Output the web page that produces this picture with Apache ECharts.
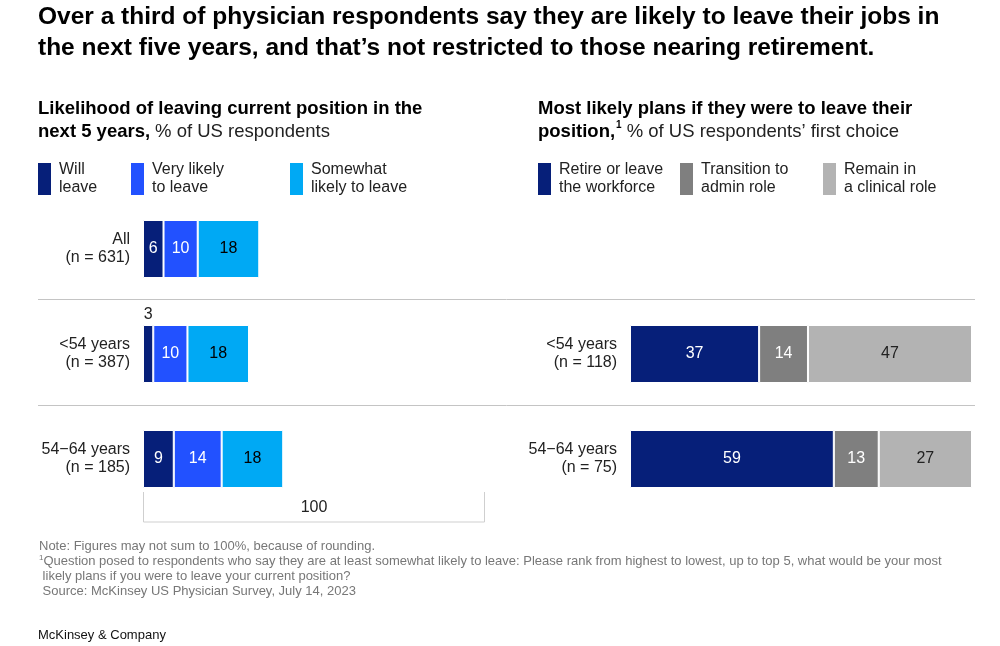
<!DOCTYPE html>
<html>
<head>
<meta charset="utf-8">
<script src="https://cdn.jsdelivr.net/npm/echarts@6/dist/echarts.min.js"></script>
<style>
  html, body { margin: 0; padding: 0; background: #fff; }
  #myChart { width: 1000px; height: 646px; }
</style>
</head>
<body>
<div id="myChart"></div>
<script>
// 数据
const leaveCats = ['All\n(n = 631)', '<54 years\n(n = 387)', '54\u221264 years\n(n = 185)']
const willLeave = [6, 3, 9]
const veryLikely = [10, 10, 14]
const somewhatLikely = [18, 18, 18]

const planCats = ['', '<54 years\n(n = 118)', '54\u221264 years\n(n = 75)']
const retire = [null, 37, 59]
const adminRole = [null, 14, 13]
const clinicalRole = [null, 47, 27]

const totalLabel = '100'

const FONT = 'Liberation Sans'
const NAVY = '#061f79'
const BLUE = '#2251ff'
const CYAN = '#00a9f4'
const GRAY = '#7f7f7f'
const LIGHTGRAY = '#b3b3b3'

let myChart = echarts.init(document.getElementById('myChart'))

function barSeries (name, data, color, textColor, xi) {
  return {
    name: name,
    type: 'bar',
    stack: 's' + xi,
    xAxisIndex: xi,
    yAxisIndex: xi,
    barWidth: 58,
    data: data,
    itemStyle: { color: color, borderColor: '#fff', borderWidth: 1 },
    label: {
      show: true,
      position: 'inside',
      color: textColor,
      fontFamily: FONT,
      fontSize: 16
    },
    emphasis: { disabled: true }
  }
}

// 右侧每行按合计归一到整条宽度，标签仍显示原始数值
function shareSeries (name, arr, color, textColor) {
  let s = barSeries(name, arr.map(function (v, i) {
    if (v == null) return '-'
    let tot = retire[i] + adminRole[i] + clinicalRole[i]
    return v / tot * 100
  }), color, textColor, 1)
  s.label.formatter = function (p) { return arr[p.dataIndex] }
  return s
}

function oneLegend (name, text, left) {
  return {
    data: [name],
    left: left,
    top: 161,
    padding: 0,
    orient: 'horizontal',
    icon: 'rect',
    itemWidth: 13,
    itemHeight: 32,
    itemStyle: { borderWidth: 0 },
    selectedMode: false,
    formatter: function () { return text },
    textStyle: {
      fontFamily: FONT,
      fontSize: 16,
      lineHeight: 18,
      color: '#222',
      padding: [0, 0, 0, 3]
    }
  }
}

const series = [
  barSeries('Will leave', willLeave.map(function (v) {
    // 小数值的标签放在柱子上方
    if (v < 5) return { value: v, label: { position: 'top', color: '#222', distance: 2 } }
    return v
  }), NAVY, '#fff', 0),
  barSeries('Very likely to leave', veryLikely, BLUE, '#fff', 0),
  barSeries('Somewhat likely to leave', somewhatLikely, CYAN, '#000', 0),
  shareSeries('Retire', retire, NAVY, '#fff'),
  shareSeries('Admin', adminRole, GRAY, '#fff'),
  shareSeries('Clinical', clinicalRole, LIGHTGRAY, '#222')
]

const yAxisBase = {
  type: 'category',
  inverse: true,
  axisLine: { show: false },
  axisTick: { show: false },
  axisLabel: {
    fontFamily: FONT,
    fontSize: 16,
    lineHeight: 18,
    color: '#222',
    margin: 13,
    align: 'right'
  }
}

const subRich = {
  b: { fontFamily: FONT, fontWeight: 'bold', fontSize: 18.5, lineHeight: 23, color: '#000' },
  s: { fontFamily: FONT, fontWeight: 'bold', fontSize: 10, lineHeight: 23, verticalAlign: 'top', color: '#000', padding: [0, 0, 8, 1] },
  r: { fontFamily: FONT, fontWeight: 'normal', fontSize: 18.5, lineHeight: 23, color: '#222' }
}

myChart.setOption({
  backgroundColor: '#fff',
  animation: false,
  title: [{
    text: 'Over a third of physician respondents say they are likely to leave their jobs in\nthe next five years, and that\u2019s not restricted to those nearing retirement.',
    left: 38,
    top: 2,
    padding: 0,
    textStyle: { fontFamily: FONT, fontWeight: 'bold', fontSize: 24.5, lineHeight: 31, color: '#000' }
  }, {
    text: '{b|Likelihood of leaving current position in the}\n{b|next 5 years,} {r|% of US respondents}',
    left: 38,
    top: 97,
    padding: 0,
    textStyle: { rich: subRich }
  }, {
    text: '{b|Most likely plans if they were to leave their}\n{b|position,}{s|1} {r|% of US respondents\u2019 first choice}',
    left: 538,
    top: 97,
    padding: 0,
    textStyle: { rich: subRich }
  }, {
    text: 'Note: Figures may not sum to 100%, because of rounding.\n{s|1}Question posed to respondents who say they are at least somewhat likely to leave: Please rank from highest to lowest, up to top 5, what would be your most\n likely plans if you were to leave your current position?\n Source: McKinsey US Physician Survey, July 14, 2023',
    left: 39,
    top: 539,
    padding: 0,
    textStyle: {
      fontFamily: FONT, fontSize: 13, lineHeight: 15, color: '#777', fontWeight: 'normal',
      rich: { s: { fontFamily: FONT, fontSize: 8, verticalAlign: 'top', color: '#777', padding: [0, 0, 5, 0] } }
    }
  }, {
    text: 'McKinsey & Company',
    left: 38,
    top: 629,
    padding: 0,
    textStyle: { fontFamily: FONT, fontSize: 13, color: '#111', fontWeight: 'normal' }
  }],
  legend: [
    oneLegend('Will leave', 'Will\nleave', 38),
    oneLegend('Very likely to leave', 'Very likely\nto leave', 131),
    oneLegend('Somewhat likely to leave', 'Somewhat\nlikely to leave', 290),
    oneLegend('Retire', 'Retire or leave\nthe workforce', 538),
    oneLegend('Admin', 'Transition to\nadmin role', 680),
    oneLegend('Clinical', 'Remain in\na clinical role', 823)
  ],
  grid: [
    { left: 143, width: 342, top: 196.5, height: 315 },
    { left: 630, width: 342, top: 196.5, height: 315 }
  ],
  xAxis: [
    { type: 'value', gridIndex: 0, min: 0, max: 100, show: false },
    { type: 'value', gridIndex: 1, min: 0, max: 100, show: false }
  ],
  yAxis: [
    Object.assign({ gridIndex: 0, data: leaveCats }, yAxisBase),
    Object.assign({ gridIndex: 1, data: planCats }, yAxisBase)
  ],
  series: series
})

// 分隔线和 100 标尺
function drawDecor () {
  let c0 = myChart.convertToPixel({ yAxisIndex: 0 }, leaveCats[0])
  let c1 = myChart.convertToPixel({ yAxisIndex: 0 }, leaveCats[1])
  let c2 = myChart.convertToPixel({ yAxisIndex: 0 }, leaveCats[2])
  let x0 = myChart.convertToPixel({ xAxisIndex: 0 }, 0)
  let x100 = myChart.convertToPixel({ xAxisIndex: 0 }, 100)
  let lineStyle = { stroke: '#c4c4c4', lineWidth: 1 }
  let bTop = c2 + 33
  let bBot = c2 + 63
  myChart.setOption({
    graphic: [
      { type: 'line', shape: { x1: 38, y1: (c0 + c1) / 2 - 2, x2: 975, y2: (c0 + c1) / 2 - 2 }, style: lineStyle },
      { type: 'line', shape: { x1: 38, y1: (c1 + c2) / 2 - 1, x2: 975, y2: (c1 + c2) / 2 - 1 }, style: lineStyle },
      {
        type: 'polyline',
        shape: { points: [[x0 + 0.5, bTop], [x0 + 0.5, bBot], [x100 - 0.5, bBot], [x100 - 0.5, bTop]] },
        style: { stroke: '#cfcfcf', lineWidth: 1, fill: null }
      },
      {
        type: 'text',
        x: (x0 + x100) / 2,
        y: (bTop + bBot) / 2 + 1,
        style: { text: totalLabel, fontFamily: FONT, fontSize: 16, fill: '#222', align: 'center', verticalAlign: 'middle' }
      }
    ]
  })
}
drawDecor()
</script>
</body>
</html>
